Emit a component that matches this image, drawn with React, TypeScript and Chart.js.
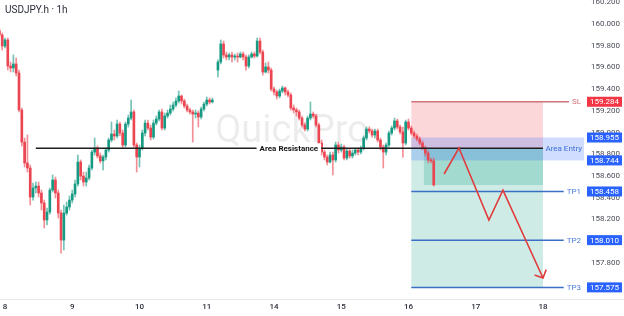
import React, { useEffect, useRef } from 'react';
import { Chart, registerables } from 'chart.js';

Chart.register(...registerables);

// hour index of the first candle (hours of trading time counted from the start of day 8)
const firstHour = -2;

const opens: (number | null)[] = [
  159.936, 159.899, 159.797, 159.853, 159.613, 159.595, 159.632, 159.549, 159.208, 158.913,
  158.720, 158.674, 158.407, 158.490, 158.508, 158.444, 158.352, 158.195, 158.269, 158.471,
  158.564, 158.444, 158.260, 158.011, 158.260, 158.315, 158.379, 158.435, 158.527, 158.729,
  158.600, 158.545, 158.582, 158.674, 158.821, 158.858, 158.785, 158.739, 158.775, 158.840,
  158.932, 158.987, 158.969, 159.079, 158.996, 158.886, 159.079, 159.134, 159.190, 158.886,
  158.775, 158.858, 158.996, 159.088, 159.042, 158.959, 159.088, 159.125, 159.190, 159.042,
  159.153, 159.180, 159.217, 159.254, 159.291, 159.337, 159.291, 159.245, 159.208, 159.190,
  159.171, 159.180, 159.144, 159.217, 159.263, 159.300, 159.282, null, 159.576, 159.650,
  159.816, 159.715, 159.696, 159.715, 159.696, 159.705, 159.696, 159.724, 159.696, 159.613,
  159.696, 159.724, 159.705, 159.843, 159.742, 159.558, 159.604, 159.576, 159.401, 159.374,
  159.337, 159.383, 159.411, 159.374, 159.346, 159.227, 159.208, 159.190, 159.134, 159.070,
  159.033, 159.134, 159.171, 159.153, 159.070, 158.904, 158.821, 158.775, 158.729, 158.794,
  158.748, 158.886, 158.840, 158.867, 158.766, 158.831, 158.785, 158.812, 158.840, 158.821,
  158.858, 158.950, 159.033, 159.015, 158.978, 159.015, 158.932, 158.867, 158.821, 158.886,
  158.996, 159.042, 159.107, 159.052, 159.006, 158.904, 159.098, 159.042, 158.996, 158.969,
  158.941, 158.904, 158.858, 158.812, 158.748, 158.739,
];

const highs: (number | null)[] = [
  159.963, 159.917, 159.871, 159.871, 159.650, 159.715, 159.687, 159.576, 159.227, 158.950,
  158.978, 158.702, 158.536, 158.545, 158.545, 158.471, 158.379, 158.306, 158.490, 158.610,
  158.591, 158.471, 158.287, 158.333, 158.361, 158.416, 158.471, 158.564, 158.794, 158.748,
  158.637, 158.637, 158.702, 158.840, 158.950, 158.877, 158.812, 158.794, 158.858, 158.950,
  159.098, 159.024, 159.116, 159.098, 159.024, 159.098, 159.162, 159.300, 159.208, 158.904,
  158.886, 159.024, 159.116, 159.116, 159.070, 159.116, 159.153, 159.208, 159.217, 159.180,
  159.208, 159.254, 159.282, 159.319, 159.383, 159.346, 159.309, 159.263, 159.227, 159.208,
  159.208, 159.199, 159.236, 159.282, 159.328, 159.319, 159.319, null, 159.669, 159.853,
  159.843, 159.742, 159.733, 159.742, 159.724, 159.733, 159.742, 159.742, 159.715, 159.715,
  159.742, 159.742, 159.871, 159.871, 159.761, 159.641, 159.650, 159.595, 159.420, 159.392,
  159.401, 159.429, 159.420, 159.392, 159.365, 159.254, 159.227, 159.208, 159.153, 159.088,
  159.153, 159.282, 159.190, 159.171, 159.088, 158.932, 158.840, 158.794, 158.821, 158.821,
  158.913, 158.913, 158.895, 158.886, 158.858, 158.849, 158.840, 158.858, 158.858, 158.877,
  158.969, 159.052, 159.052, 159.033, 159.033, 159.033, 158.950, 158.886, 158.904, 159.015,
  159.061, 159.134, 159.125, 159.070, 159.052, 159.116, 159.125, 159.061, 159.015, 158.987,
  158.959, 158.923, 158.877, 158.831, 158.766, 158.766,
];

const lows: (number | null)[] = [
  159.880, 159.761, 159.779, 159.576, 159.558, 159.558, 159.521, 159.190, 158.877, 158.683,
  158.637, 158.333, 158.379, 158.444, 158.407, 158.287, 158.122, 158.149, 158.250, 158.453,
  158.398, 158.214, 157.891, 157.919, 158.241, 158.287, 158.352, 158.407, 158.508, 158.564,
  158.508, 158.508, 158.564, 158.656, 158.794, 158.766, 158.720, 158.656, 158.748, 158.821,
  158.913, 158.932, 158.950, 158.969, 158.858, 158.867, 159.052, 159.116, 158.867, 158.637,
  158.683, 158.840, 158.969, 159.024, 158.932, 158.941, 159.070, 159.107, 159.024, 159.024,
  159.134, 159.162, 159.199, 159.236, 159.273, 159.263, 159.227, 159.190, 159.171, 158.913,
  159.134, 159.052, 159.125, 159.199, 159.245, 159.263, 159.273, null, 159.512, 159.632,
  159.687, 159.669, 159.669, 159.650, 159.669, 159.650, 159.687, 159.669, 159.576, 159.595,
  159.687, 159.687, 159.696, 159.724, 159.530, 159.549, 159.549, 159.383, 159.346, 159.309,
  159.319, 159.365, 159.346, 159.328, 159.208, 159.180, 159.153, 159.116, 159.052, 159.015,
  159.015, 159.116, 159.134, 159.052, 158.886, 158.794, 158.748, 158.702, 158.720, 158.610,
  158.729, 158.812, 158.821, 158.748, 158.748, 158.766, 158.766, 158.794, 158.794, 158.803,
  158.840, 158.932, 158.996, 158.959, 158.950, 158.913, 158.840, 158.674, 158.794, 158.867,
  158.978, 159.024, 159.033, 158.987, 158.775, 158.886, 159.024, 158.978, 158.950, 158.923,
  158.886, 158.840, 158.785, 158.720, 158.720, 158.508,
];

const closes: (number | null)[] = [
  159.899, 159.797, 159.853, 159.613, 159.595, 159.632, 159.549, 159.208, 158.913, 158.720,
  158.674, 158.407, 158.490, 158.508, 158.444, 158.352, 158.195, 158.269, 158.471, 158.564,
  158.444, 158.260, 158.011, 158.260, 158.315, 158.379, 158.435, 158.527, 158.729, 158.600,
  158.545, 158.582, 158.674, 158.821, 158.858, 158.785, 158.739, 158.775, 158.840, 158.932,
  158.987, 158.969, 159.079, 158.996, 158.886, 159.079, 159.134, 159.190, 158.886, 158.775,
  158.858, 158.996, 159.088, 159.042, 158.959, 159.088, 159.125, 159.190, 159.042, 159.153,
  159.180, 159.217, 159.254, 159.291, 159.337, 159.291, 159.245, 159.208, 159.190, 159.171,
  159.180, 159.144, 159.217, 159.263, 159.300, 159.282, 159.300, null, 159.650, 159.816,
  159.715, 159.696, 159.715, 159.696, 159.705, 159.696, 159.724, 159.696, 159.613, 159.696,
  159.724, 159.705, 159.843, 159.742, 159.558, 159.604, 159.576, 159.401, 159.374, 159.337,
  159.383, 159.411, 159.374, 159.346, 159.227, 159.208, 159.190, 159.134, 159.070, 159.033,
  159.134, 159.171, 159.153, 159.070, 158.904, 158.821, 158.775, 158.729, 158.794, 158.748,
  158.886, 158.840, 158.867, 158.766, 158.831, 158.785, 158.812, 158.840, 158.821, 158.858,
  158.950, 159.033, 159.015, 158.978, 159.015, 158.932, 158.867, 158.821, 158.886, 158.996,
  159.042, 159.107, 159.052, 159.006, 158.904, 159.098, 159.042, 158.996, 158.969, 158.941,
  158.904, 158.858, 158.812, 158.748, 158.739, 158.518,
];

const dayTickHours = [0, 24, 48, 72, 96, 120, 144, 168, 192];
const dayTickLabels = ['8', '9', '10', '11', '14', '15', '16', '17', '18'];
const priceTicks = [157.8, 158.0, 158.2, 158.4, 158.6, 158.8, 159.0, 159.2, 159.4, 159.6, 159.8, 160.0, 160.2];

const xMin = -1.784;
const xMax = 206.63;
const yMin = 157.468;
const yMax = 160.221;

const title = 'USDJPY.h · 1h';
const watermark = 'QuickPro';

const slPrice = 159.284;
const entryPrice = 158.855;
const entryTop = 158.955;
const entryBottom = 158.744;
const currentPrice = 158.518;
const tpPrices = [158.458, 158.010, 157.575];
const tpNames = ['TP1', 'TP2', 'TP3'];
const positionStartHour = 145;
const positionEndHour = 192;
const pnlStartHour = 149.5;

const resistancePrice = 158.855;
const resistanceStartHour = 11;
const resistanceEndHour = 192;
const resistanceLabelHour = 101.3;
const resistanceLabel = 'Area Resistance';
const entryLabel = 'Area Entry';

const arrowPath: [number, number][] = [
  [156.7, 158.619],
  [162.0, 158.858],
  [172.7, 158.195],
  [177.7, 158.471],
  [192.0, 157.661],
];

const FONT = 'Roboto, "Noto Sans", sans-serif';

export default function App() {
  const ref = useRef<HTMLCanvasElement>(null);

  useEffect(() => {
    document.body.style.margin = '0';
    const canvas = ref.current!;
    const up = '#169a83';
    const down = '#ea4550';
    const bodies: any[] = [];
    const wicks: any[] = [];
    const bodyColors: string[] = [];
    const wickColors: string[] = [];
    opens.forEach((o, i) => {
      const c = closes[i];
      if (o == null || c == null) return;
      const x = firstHour + i;
      const isUp = c >= o;
      bodies.push({ x, y: [o, c] });
      wicks.push({ x, y: [lows[i], highs[i]] });
      bodyColors.push(isUp ? up : down);
      wickColors.push(isUp ? 'rgba(22,154,131,0.6)' : 'rgba(234,69,80,0.6)');
    });

    const overlay = {
      id: 'overlay',
      beforeDatasetsDraw(chart: any) {
        const { ctx, chartArea: a, scales } = chart;
        const X = (v: number) => scales.x.getPixelForValue(v);
        const Y = (v: number) => scales.y.getPixelForValue(v);
        ctx.save();
        ctx.beginPath();
        ctx.rect(a.left, a.top, a.right - a.left, a.bottom - a.top);
        ctx.clip();
        // watermark
        ctx.font = `38px ${FONT}`;
        ctx.fillStyle = 'rgba(0,0,0,0.075)';
        ctx.textAlign = 'center';
        ctx.textBaseline = 'alphabetic';
        ctx.fillText(watermark, (a.left + a.right) / 2, a.top + (a.bottom - a.top) * 0.475);
        // position zones
        const x0 = X(positionStartHour);
        const x1 = X(positionEndHour);
        ctx.fillStyle = 'rgba(242,54,69,0.2)';
        ctx.fillRect(x0, Y(slPrice), x1 - x0, Y(entryPrice) - Y(slPrice));
        ctx.fillStyle = 'rgba(8,153,129,0.2)';
        ctx.fillRect(x0, Y(entryPrice), x1 - x0, Y(tpPrices[2]) - Y(entryPrice));
        const xp = X(pnlStartHour);
        ctx.fillStyle = 'rgba(8,153,129,0.22)';
        ctx.fillRect(xp, Y(entryPrice), x1 - xp, Y(currentPrice) - Y(entryPrice));
        // area entry band
        ctx.fillStyle = 'rgba(41,98,255,0.22)';
        ctx.fillRect(x0, Y(entryTop), a.right - x0, Y(entryBottom) - Y(entryTop));
        ctx.restore();
      },
      afterDatasetsDraw(chart: any) {
        const { ctx, chartArea: a, scales } = chart;
        const X = (v: number) => scales.x.getPixelForValue(v);
        const Y = (v: number) => scales.y.getPixelForValue(v);
        ctx.save();
        // area resistance
        const ry = Y(resistancePrice);
        ctx.strokeStyle = '#1e1e1e';
        ctx.lineWidth = 1.5;
        ctx.beginPath();
        ctx.moveTo(X(resistanceStartHour), ry);
        ctx.lineTo(X(resistanceEndHour), ry);
        ctx.stroke();
        ctx.font = `bold 8px ${FONT}`;
        ctx.textAlign = 'center';
        ctx.textBaseline = 'middle';
        const lx = X(resistanceLabelHour);
        const lw = ctx.measureText(resistanceLabel).width;
        ctx.fillStyle = '#ffffff';
        ctx.fillRect(lx - lw / 2 - 3, ry - 5, lw + 6, 10);
        ctx.fillStyle = '#131313';
        ctx.fillText(resistanceLabel, lx, ry + 0.5);

        // labelled horizontal lines
        const textRight = a.right - 3;
        const drawLine = (price: number, name: string, lineColor: string, textColor: string) => {
          const y = Y(price);
          ctx.font = `8px ${FONT}`;
          const w = ctx.measureText(name).width;
          ctx.strokeStyle = lineColor;
          ctx.lineWidth = 1.5;
          ctx.beginPath();
          ctx.moveTo(X(positionStartHour), y);
          ctx.lineTo(textRight - w - 3, y);
          ctx.stroke();
          ctx.fillStyle = textColor;
          ctx.textAlign = 'right';
          ctx.textBaseline = 'middle';
          ctx.fillText(name, textRight, y + 0.5);
        };
        drawLine(slPrice, 'SL', '#d4727c', '#d4727c');
        tpPrices.forEach((p, i) => drawLine(p, tpNames[i], '#3b6fc6', '#4a7ed2'));

        // area entry label
        ctx.font = `8px ${FONT}`;
        ctx.fillStyle = '#3d6fd6';
        ctx.textAlign = 'right';
        ctx.textBaseline = 'middle';
        ctx.fillText(entryLabel, a.right - 2, Y((entryTop + entryBottom) / 2) + 0.5);

        // projected path arrow
        ctx.strokeStyle = '#e23b3b';
        ctx.lineWidth = 1.6;
        ctx.lineJoin = 'miter';
        ctx.beginPath();
        arrowPath.forEach(([h, p], i) => {
          if (i === 0) ctx.moveTo(X(h), Y(p));
          else ctx.lineTo(X(h), Y(p));
        });
        ctx.stroke();
        const [h1, p1] = arrowPath[arrowPath.length - 2];
        const [h2, p2] = arrowPath[arrowPath.length - 1];
        const tx = X(h2), ty = Y(p2);
        const ang = Math.atan2(ty - Y(p1), tx - X(h1));
        const len = 9;
        ctx.beginPath();
        ctx.moveTo(tx + len * Math.cos(ang + Math.PI - Math.PI / 4), ty + len * Math.sin(ang + Math.PI - Math.PI / 4));
        ctx.lineTo(tx, ty);
        ctx.lineTo(tx + len * Math.cos(ang + Math.PI + Math.PI / 4), ty + len * Math.sin(ang + Math.PI + Math.PI / 4));
        ctx.stroke();
        ctx.restore();
      },
      afterDraw(chart: any) {
        const { ctx, chartArea: a, scales, width } = chart;
        const Y = (v: number) => scales.y.getPixelForValue(v);
        ctx.save();
        // axis separator
        ctx.strokeStyle = '#e6e8ee';
        ctx.lineWidth = 1;
        ctx.beginPath();
        ctx.moveTo(0, a.bottom + 0.5);
        ctx.lineTo(width, a.bottom + 0.5);
        ctx.stroke();
        // price boxes
        const box = (price: number, color: string) => {
          const y = Y(price);
          ctx.fillStyle = color;
          ctx.fillRect(a.right + 3, y - 5, 35, 10);
          ctx.fillStyle = '#ffffff';
          ctx.font = `8px ${FONT}`;
          ctx.textAlign = 'center';
          ctx.textBaseline = 'middle';
          ctx.fillText(price.toFixed(3), a.right + 20.5, y + 0.5);
        };
        box(slPrice, '#f23645');
        box(entryTop, '#2962ff');
        box(entryBottom, '#2962ff');
        tpPrices.forEach((p) => box(p, '#2962ff'));
        // title
        ctx.font = `10px ${FONT}`;
        ctx.fillStyle = '#2a2e39';
        ctx.textAlign = 'left';
        ctx.textBaseline = 'middle';
        ctx.fillText(title, 5, 10);
        ctx.restore();
      },
    };

    const chart = new Chart(canvas, {
      type: 'bar',
      data: {
        datasets: [
          {
            data: wicks,
            backgroundColor: wickColors,
            barThickness: 1,
            grouped: false,
            order: 2,
          } as any,
          {
            data: bodies,
            backgroundColor: bodyColors,
            barThickness: 2,
            minBarLength: 1,
            grouped: false,
            order: 1,
          } as any,
        ],
      },
      options: {
        animation: false,
        responsive: false,
        maintainAspectRatio: false,
        events: [],
        layout: { padding: 0 },
        plugins: { legend: { display: false }, tooltip: { enabled: false } },
        scales: {
          x: {
            type: 'linear',
            min: xMin,
            max: xMax,
            offset: false,
            grid: { display: false, drawTicks: false },
            border: { display: false },
            ticks: {
              autoSkip: false,
              maxRotation: 0,
              padding: 3,
              color: '#2a2e39',
              font: { family: FONT, size: 8, weight: 500 as any },
              callback: (v: any) => {
                const k = dayTickHours.indexOf(Number(v));
                return k >= 0 ? dayTickLabels[k] : '';
              },
            },
            afterBuildTicks: (s: any) => {
              s.ticks = dayTickHours.map((v) => ({ value: v }));
            },
            afterFit: (s: any) => {
              s.height = 17;
              s.paddingLeft = 0;
              s.paddingRight = 0;
            },
          },
          y: {
            position: 'right',
            min: yMin,
            max: yMax,
            grid: { display: false, drawTicks: false },
            border: { display: false },
            ticks: {
              padding: 7,
              color: '#4b4f59',
              font: { family: FONT, size: 8 },
              callback: (v: any) => Number(v).toFixed(3),
            },
            afterBuildTicks: (s: any) => {
              s.ticks = priceTicks.map((v) => ({ value: v }));
            },
            afterFit: (s: any) => {
              s.width = 40;
              s.paddingTop = 0;
              s.paddingBottom = 0;
            },
          },
        },
      } as any,
      plugins: [overlay],
    });
    return () => chart.destroy();
  }, []);

  return (
    <div style={{ width: 624, height: 316 }}>
      <canvas ref={ref} width={624} height={316} style={{ display: 'block' }} />
    </div>
  );
}
